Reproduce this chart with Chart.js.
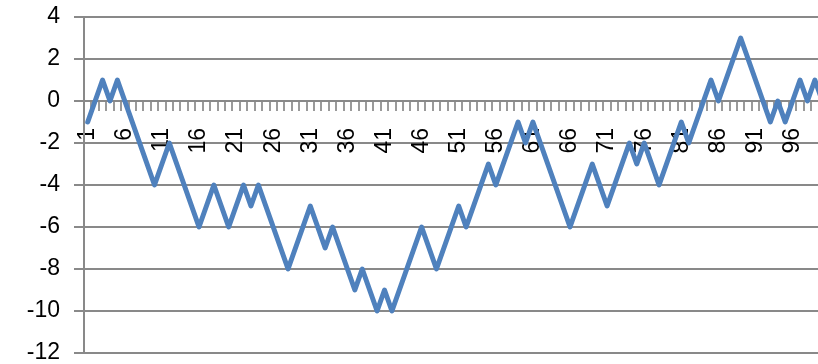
<!DOCTYPE html>
<html>
<head>
<meta charset="utf-8">
<script src="https://cdn.jsdelivr.net/npm/chart.js@4"></script>
<style>
  html, body { margin: 0; padding: 0; background: #fff; overflow: hidden; }
  #wrap { width: 818px; height: 364px; overflow: hidden; }
</style>
</head>
<body>
<div id="wrap"><canvas id="walk" width="826" height="364"></canvas></div>
<script>
// categories 1..100 (x axis)
const steps = [
  1, 2, 3, 4, 5, 6, 7, 8, 9, 10, 11, 12, 13, 14, 15, 16, 17, 18, 19, 20,
  21, 22, 23, 24, 25, 26, 27, 28, 29, 30, 31, 32, 33, 34, 35, 36, 37, 38, 39, 40,
  41, 42, 43, 44, 45, 46, 47, 48, 49, 50, 51, 52, 53, 54, 55, 56, 57, 58, 59, 60,
  61, 62, 63, 64, 65, 66, 67, 68, 69, 70, 71, 72, 73, 74, 75, 76, 77, 78, 79, 80,
  81, 82, 83, 84, 85, 86, 87, 88, 89, 90, 91, 92, 93, 94, 95, 96, 97, 98, 99, 100
];

// valores
const posicion = [
  -1, 0, 1, 0, 1, 0, -1, -2, -3, -4, -3, -2, -3, -4, -5, -6, -5, -4, -5, -6,
  -5, -4, -5, -4, -5, -6, -7, -8, -7, -6, -5, -6, -7, -6, -7, -8, -9, -8, -9, -10,
  -9, -10, -9, -8, -7, -6, -7, -8, -7, -6, -5, -6, -5, -4, -3, -4, -3, -2, -1, -2,
  -1, -2, -3, -4, -5, -6, -5, -4, -3, -4, -5, -4, -3, -2, -3, -2, -3, -4, -3, -2,
  -1, -2, -1, 0, 1, 0, 1, 2, 3, 2, 1, 0, -1, 0, -1, 0, 1, 0, 1, 0
];

const yMin = -12;
const yMax = 4;
const yStep = 2;

const gris = '#898989';
const fuente = { family: "'Liberation Sans', Arial, sans-serif", size: 23 };

// que las etiquetas no cambien el area del grafico
function sinRelleno(s) {
  s.paddingLeft = 0;
  s.paddingRight = 0;
  s.paddingTop = 0;
  s.paddingBottom = 0;
}

const ctx = document.getElementById('walk').getContext('2d');
new Chart(ctx, {
  type: 'line',
  data: {
    labels: steps,
    datasets: [{
      data: posicion,
      borderColor: '#4f81bd',
      borderWidth: 5,
      borderJoinStyle: 'round',
      borderCapStyle: 'round',
      pointRadius: 0,
      tension: 0,
      fill: false
    }]
  },
  options: {
    responsive: false,
    animation: false,
    layout: { padding: { top: 17, bottom: 11, left: 0, right: 0 } },
    plugins: { legend: { display: false }, tooltip: { enabled: false } },
    scales: {
      x: {
        position: { y: 0 },
        offset: true,
        afterFit: sinRelleno,
        grid: {
          offset: true,
          drawOnChartArea: false,
          drawTicks: true,
          tickLength: 9,
          color: '#9a9a9a',
          lineWidth: 2
        },
        border: { color: gris, width: 2 },
        ticks: {
          autoSkip: false,
          minRotation: 90,
          maxRotation: 90,
          padding: 18,
          color: '#000',
          font: fuente,
          callback: (value, index) => (index % 5 === 0 ? String(steps[index]) : '')
        }
      },
      y: {
        min: yMin,
        max: yMax,
        afterFit: (s) => { s.width = 84; sinRelleno(s); },
        grid: {
          color: gris,
          lineWidth: 2,
          drawTicks: true,
          tickLength: 10
        },
        border: { color: gris, width: 2 },
        ticks: {
          stepSize: yStep,
          padding: 14,
          color: '#000',
          font: fuente
        }
      }
    }
  }
});
</script>
</body>
</html>
